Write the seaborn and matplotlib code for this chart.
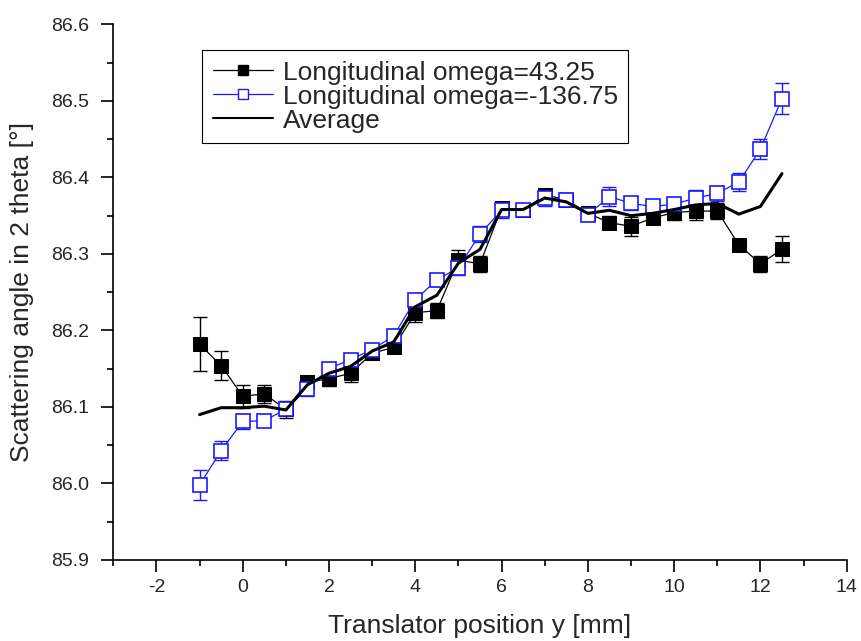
import numpy as np
import pandas as pd
import matplotlib
matplotlib.use("Agg")
import matplotlib.pyplot as plt
from matplotlib.ticker import MultipleLocator
from matplotlib.lines import Line2D
import seaborn as sns

sns.set_style("ticks")
plt.rcParams["font.family"] = ["Liberation Sans", "DejaVu Sans"]

# translator positions (mm)
pos = [-1, -0.5, 0, 0.5, 1, 1.5, 2, 2.5, 3, 3.5, 4, 4.5, 5, 5.5, 6, 6.5,
       7, 7.5, 8, 8.5, 9, 9.5, 10, 10.5, 11, 11.5, 12, 12.5]

# omega = 43.25
omega_pos = [86.182, 86.154, 86.114, 86.117, 86.097, 86.132, 86.137, 86.144,
             86.170, 86.178, 86.223, 86.226, 86.292, 86.287, 86.360, 86.357,
             86.377, 86.371, 86.353, 86.341, 86.336, 86.347, 86.354, 86.356,
             86.356, 86.312, 86.287, 86.306]
omega_pos_err = [0.035, 0.019, 0.015, 0.012, 0.011, 0.005, 0.010, 0.012,
                 0.007, 0.008, 0.012, 0.010, 0.013, 0.010, 0.008, 0.008,
                 0.007, 0.008, 0.006, 0.008, 0.012, 0.007, 0.010, 0.012,
                 0.010, 0.008, 0.010, 0.017]

# omega = -136.75
omega_neg = [85.998, 86.043, 86.081, 86.082, 86.097, 86.124, 86.150, 86.162,
             86.175, 86.193, 86.240, 86.266, 86.282, 86.326, 86.357, 86.357,
             86.373, 86.371, 86.351, 86.375, 86.366, 86.362, 86.365, 86.373,
             86.379, 86.394, 86.437, 86.503]
omega_neg_err = [0.020, 0.012, 0.010, 0.006, 0.008, 0.010, 0.008, 0.006,
                 0.006, 0.006, 0.008, 0.008, 0.010, 0.010, 0.010, 0.008,
                 0.010, 0.008, 0.007, 0.012, 0.008, 0.008, 0.008, 0.010,
                 0.010, 0.012, 0.013, 0.020]

# average curve
average = [86.090, 86.099, 86.099, 86.101, 86.096, 86.129, 86.144, 86.153,
           86.173, 86.185, 86.231, 86.246, 86.288, 86.306, 86.358, 86.358,
           86.373, 86.368, 86.353, 86.357, 86.350, 86.353, 86.358, 86.364,
           86.366, 86.352, 86.362, 86.405]

label_a = "Longitudinal omega=43.25"
label_b = "Longitudinal omega=-136.75"
label_c = "Average"

df = pd.DataFrame({"pos": pos, "a": omega_pos, "b": omega_neg, "avg": average})

fig = plt.figure(figsize=(8.61, 6.41), dpi=100)
ax = fig.add_axes([0.1316, 0.1264, 0.8518, 0.8356])

blue = "#1a1aff"

# error bars first
ax.errorbar(pos, omega_pos, yerr=omega_pos_err, fmt="none", ecolor="black",
            elinewidth=1, capsize=5, capthick=1, zorder=2)
ax.errorbar(pos, omega_neg, yerr=omega_neg_err, fmt="none", ecolor=blue,
            elinewidth=1, capsize=5, capthick=1, zorder=2)

sns.lineplot(data=df, x="pos", y="a", ax=ax, color="black", lw=0.9,
             marker="s", markersize=10, markerfacecolor="black",
             markeredgecolor="black", zorder=3, legend=False)
sns.lineplot(data=df, x="pos", y="b", ax=ax, color=blue, lw=0.9,
             marker="s", markersize=9.5, markerfacecolor="white",
             markeredgecolor=blue, markeredgewidth=1.2, zorder=4, legend=False)
sns.lineplot(data=df, x="pos", y="avg", ax=ax, color="black", lw=2.2,
             zorder=5, legend=False)

ax.set_xlim(-3, 14)
ax.set_ylim(85.9, 86.6)
ax.xaxis.set_major_locator(MultipleLocator(2))
ax.xaxis.set_minor_locator(MultipleLocator(1))
ax.yaxis.set_major_locator(MultipleLocator(0.1))
ax.yaxis.set_minor_locator(MultipleLocator(0.05))
ax.yaxis.set_major_formatter(matplotlib.ticker.FormatStrFormatter("%.1f"))
ax.xaxis.set_major_formatter(matplotlib.ticker.FormatStrFormatter("%d"))

ax.tick_params(which="major", direction="out", length=8.5, width=1.2,
               labelsize=14, color="black")
ax.tick_params(axis="y", which="major", pad=9)
ax.tick_params(axis="x", which="major", pad=5)
ax.tick_params(which="minor", direction="out", length=4.5, width=1.2,
               color="black")
sns.despine(ax=ax)
for s in ["left", "bottom"]:
    ax.spines[s].set_linewidth(1.2)
    ax.spines[s].set_color("black")

ax.set_xlabel("Translator position y [mm]", fontsize=19, labelpad=13)
ax.set_ylabel("Scattering angle in 2 theta [\u00b0]", fontsize=19, labelpad=12)

handles = [
    Line2D([], [], color="black", lw=0.9, marker="s", markersize=7,
           markerfacecolor="black"),
    Line2D([], [], color=blue, lw=0.9, marker="s", markersize=7,
           markerfacecolor="white", markeredgecolor=blue),
    Line2D([], [], color="black", lw=1.5),
]
leg = ax.legend(handles, [label_a, label_b, label_c], loc="upper left",
                bbox_to_anchor=(0.121, 0.952), fontsize=19, frameon=True,
                fancybox=False, framealpha=1, edgecolor="black",
                handlelength=2.3, borderpad=0.4, labelspacing=0.0,
                handletextpad=0.35, borderaxespad=0)
leg.get_frame().set_linewidth(0.8)

fig.savefig("out.png", dpi=100)
